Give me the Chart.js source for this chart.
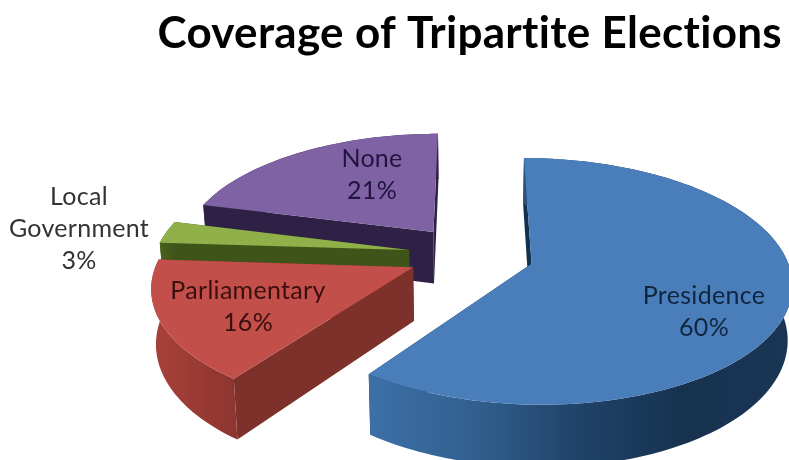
<!DOCTYPE html>
<html>
<head>
<meta charset="utf-8">
<title>Coverage of Tripartite Elections</title>
<script src="https://cdn.jsdelivr.net/npm/chart.js@4"></script>
<style>
    html, body { margin: 0; padding: 0; background: #fff; }
    canvas { display: block; }
</style>
</head>
<body>
<canvas id="chart" width="789" height="460"></canvas>
<script>
const categories = ['Presidence', 'Parliamentary', 'Local Government', 'None'];
const shares = [60, 16, 3, 21];
const topColors = ['#4a7ebb', '#c24f49', '#90b14a', '#7f62a3'];

// the view of the tilted pie, in canvas pixels
const view = { cx: 471, cy: 254.5, radius: 254, squash: 0.465, perspective: 0.00056, depth: 53, shrink: 0.985 };
const cutWallColors = ['#12304f', '#7e302b', '#3f5418', '#2f2145'];
const rimWallStops = [
    ['#3d70a8', '#31608f', '#1f4268', '#17324f', '#1a3655'],
    ['#a8403a', '#8e352f'],
    ['#4a621c', '#3f5418'],
    ['#2f2145', '#2f2145']
];
const labelAnchors = [[704, 296], [248, 291], [79, 197], [372, 159]];
const labelColors = ['#10263f', '#3a0f0d', '#333333', '#21143f'];

function project(px, py, low) {
    const w = 1 / (1 - view.perspective * py);
    let x = view.cx + px * w;
    let y = view.cy + view.squash * py * w;
    if (low) {
        x = view.cx + (x - view.cx) * view.shrink;
        y += view.depth * w;
    }
    return [x, y];
}

function fillPoly(ctx, pts, color) {
    ctx.beginPath();
    pts.forEach((p, i) => i ? ctx.lineTo(p[0], p[1]) : ctx.moveTo(p[0], p[1]));
    ctx.closePath();
    ctx.fillStyle = color;
    ctx.fill();
}

function drawSlice(ctx, arc, index) {
    const mid = (arc.startAngle + arc.endAngle) / 2;
    const ox = Math.cos(mid) * arc.options.offset;
    const oy = Math.sin(mid) * arc.options.offset;
    const rim = [];
    const steps = Math.ceil((arc.endAngle - arc.startAngle) * 40);
    for (let i = 0; i <= steps; i++) {
        const a = arc.startAngle + (arc.endAngle - arc.startAngle) * i / steps;
        rim.push([ox + Math.cos(a) * view.radius, oy + Math.sin(a) * view.radius]);
    }
    const topRim = rim.map(p => project(p[0], p[1], false));
    const lowRim = rim.map(p => project(p[0], p[1], true));
    const apexTop = project(ox, oy, false);
    const apexLow = project(ox, oy, true);

    // cut walls first, the top face hides whatever is not visible
    const last = rim.length - 1;
    fillPoly(ctx, [apexTop, topRim[0], lowRim[0], apexLow], cutWallColors[index]);
    fillPoly(ctx, [apexTop, topRim[last], lowRim[last], apexLow], cutWallColors[index]);

    // outer wall
    const xs = topRim.map(p => p[0]);
    const grad = ctx.createLinearGradient(Math.min(...xs), 0, Math.max(...xs), 0);
    const stops = rimWallStops[index];
    stops.forEach((c, i) => grad.addColorStop(i / (stops.length - 1), c));
    fillPoly(ctx, topRim.concat(lowRim.slice().reverse()), grad);

    // top face
    fillPoly(ctx, [apexTop].concat(topRim), arc.options.backgroundColor);
}

const tiltedPie = {
    id: 'tiltedPie',
    beforeDraw(chart) {
        // a little tracking also keeps Lato from joining "ti" in the title
        chart.ctx.letterSpacing = '0.3px';
    },
    beforeDatasetDraw(chart) {
        const ctx = chart.ctx;
        const arcs = chart.getDatasetMeta(0).data;
        ctx.save();
        for (let i = arcs.length - 1; i >= 0; i--) {
            drawSlice(ctx, arcs[i], i);
        }
        ctx.restore();
        return false;
    },
    afterDatasetsDraw(chart) {
        const ctx = chart.ctx;
        ctx.save();
        ctx.font = '25px Lato';
        ctx.textAlign = 'center';
        ctx.textBaseline = 'middle';
        categories.forEach((name, i) => {
            const lines = (i === 2 ? name.split(' ') : [name]).concat(shares[i] + '%');
            ctx.fillStyle = labelColors[i];
            lines.forEach((line, j) => {
                ctx.fillText(line, labelAnchors[i][0], labelAnchors[i][1] + j * 32);
            });
        });
        ctx.restore();
    }
};

new Chart(document.getElementById('chart'), {
    type: 'pie',
    data: {
        labels: categories,
        datasets: [{
            data: shares,
            backgroundColor: topColors,
            borderWidth: 0,
            offset: 63
        }]
    },
    options: {
        responsive: false,
        animation: false,
        layout: { padding: { right: 7 } },
        plugins: {
            legend: { display: false },
            tooltip: { enabled: false },
            title: {
                display: true,
                text: 'Coverage of Tripartite Elections',
                align: 'end',
                color: '#000',
                font: { family: 'Lato', size: 44, weight: 'bold' },
                padding: { top: 7, bottom: 10 }
            }
        }
    },
    plugins: [tiltedPie]
});
</script>
</body>
</html>
